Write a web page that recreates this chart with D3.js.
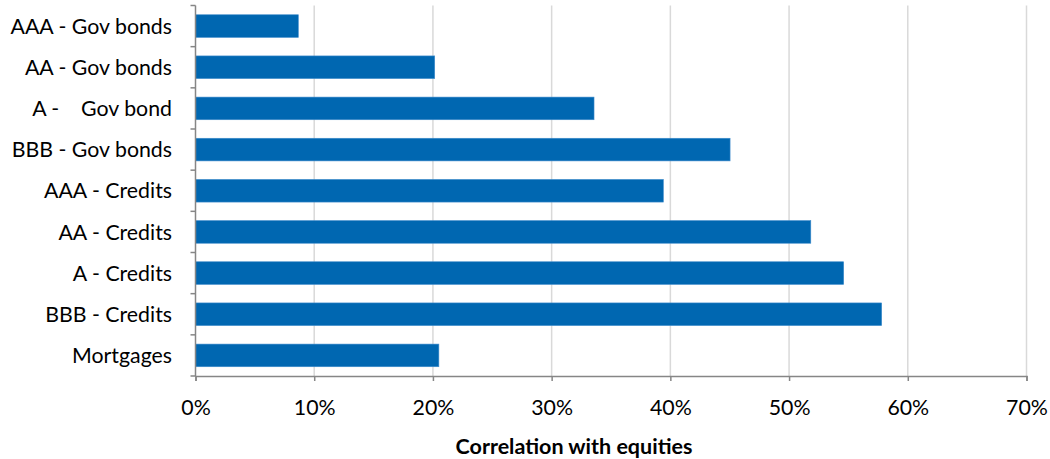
<!DOCTYPE html>
<html><head><meta charset="utf-8">
<script src="https://cdn.jsdelivr.net/npm/d3@7"></script>
<style>body{margin:0;background:#fff}svg{display:block}</style>
</head><body><div id="chart"></div>
<script>
const categories = ["AAA - Gov bonds","AA - Gov bonds","A -    Gov bond","BBB - Gov bonds","AAA - Credits","AA - Credits","A - Credits","BBB - Credits","Mortgages"];
const values = [0.0866,0.2015,0.3357,0.4503,0.3941,0.5183,0.546,0.578,0.205];
const xTicks = [0,0.1,0.2,0.3,0.4,0.5,0.6,0.7];
const xTitle = "Correlation with equities";

const W=1050,H=459;
const m={l:195.5,r:23.5,t:5.5,b:83};
const svg=d3.select("#chart").append("svg").attr("width",W).attr("height",H);
const x=d3.scaleLinear().domain([0,0.7]).range([m.l,W-m.r]);
const y=d3.scaleBand().domain(categories).range([m.t,H-m.b]).paddingInner(0.45).paddingOuter(0.225);
const font="Lato, 'Open Sans', sans-serif";
const fs=21.3;

// gridlines
svg.append("g").selectAll("line").data(xTicks.slice(1)).join("line")
  .attr("x1",d=>x(d)).attr("x2",d=>x(d)).attr("y1",m.t).attr("y2",H-m.b)
  .attr("stroke","#d9d9d9").attr("stroke-width",1.5);

// bars
svg.append("g").selectAll("rect").data(categories).join("rect")
  .attr("x",x(0)).attr("y",d=>y(d)).attr("height",y.bandwidth())
  .attr("width",(d,i)=>x(values[i])-x(0)).attr("fill","#0067b1")
  .attr("stroke","#3f8ccc").attr("stroke-width",0.6);

// x axis
const gx=svg.append("g").attr("transform",`translate(0,${H-m.b})`)
  .call(d3.axisBottom(x).tickValues(xTicks).tickFormat(d3.format(".0%")).tickSize(5).tickPadding(19));
gx.select(".domain").attr("stroke","#868686").attr("stroke-width",1.5);
gx.selectAll(".tick line").attr("stroke","#868686").attr("stroke-width",1.5);
gx.selectAll("text").attr("font-family",font).attr("font-size",fs).attr("fill","#000");

// y axis
const yb=d3.scaleLinear().domain([0,categories.length]).range([m.t,H-m.b]);
const gy=svg.append("g").attr("transform",`translate(${m.l},0)`);
gy.append("line").attr("y1",m.t).attr("y2",H-m.b).attr("stroke","#868686").attr("stroke-width",1.5);
gy.selectAll(".yt").data(d3.range(categories.length+1)).join("line").attr("class","yt")
  .attr("x1",-5).attr("x2",0).attr("y1",d=>yb(d)).attr("y2",d=>yb(d))
  .attr("stroke","#868686").attr("stroke-width",1.5);
gy.selectAll("text").data(categories).join("text")
  .attr("x",-23.5).attr("y",d=>y(d)+y.bandwidth()/2).attr("dy","0.36em")
  .attr("text-anchor","end").attr("font-family",font).attr("font-size",fs)
  .style("white-space","pre").attr("xml:space","preserve").text(d=>d);

svg.append("text").attr("x",574).attr("y",453.5).attr("text-anchor","middle")
  .attr("font-family",font).attr("font-size",21.5).attr("font-weight","bold").text(xTitle);
</script></body></html>
